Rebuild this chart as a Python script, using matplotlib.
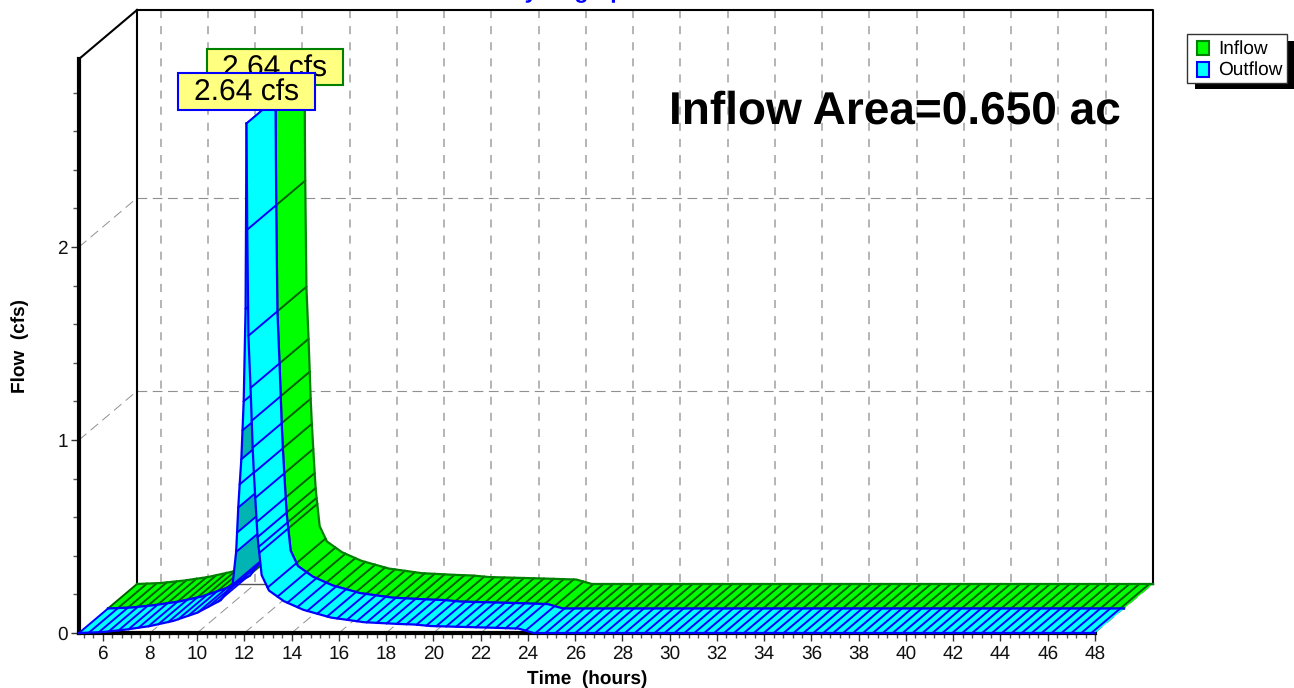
import numpy as np
import matplotlib
matplotlib.use("Agg")
import matplotlib.pyplot as plt
from matplotlib.patches import Rectangle, Polygon

plt.rcParams['font.family'] = ['Liberation Sans', 'DejaVu Sans']
plt.rcParams['lines.scale_dashes'] = False
plt.rcParams['text.hinting'] = 'none'
plt.rcParams['text.hinting_factor'] = 1

# ---- data -------------------------------------------------------------
time_rise = [5, 6, 7, 8, 9, 10, 11, 11.5, 11.65, 11.69, 11.74, 11.8, 11.87, 11.92, 11.97, 12.05, 12.09]
flow_rise = [0, .005, .018, .036, .063, .105, .17, .25, .42, .52, .65, .77, .90, 1.05, 1.2, 1.68, 2.64]
time_fall = [12.09, 12.12, 12.17, 12.26, 12.31, 12.35, 12.4, 12.46, 12.52, 12.56, 12.6, 12.63, 12.73, 13.04, 13.67,
             14.5, 15.66, 17.06, 18.5, 19.2, 19.9, 22.3, 23.6, 24.25, 48]
flow_fall = [2.64, 2.09, 1.54, 1.27, 1.10, .96, .83, .70, .575, .497, .446, .415, .30, .22, .165,
             .12, .08, .056, .047, .044, .036, .028, .023, 0, 0]
shaded_rise_flows = [(.25, .42), (.52, .65), (.90, 1.05)]
series_names = ['Inflow', 'Outflow']
peak_labels = ['2.64 cfs', '2.64 cfs']
area_label = 'Inflow Area=0.650 ac'
x_major = list(range(6, 50, 2))
y_major = [0, 1, 2]

W, H = 1294, 688
fig = plt.figure(figsize=(W / 100, H / 100), dpi=100, facecolor='white')
L, R, T, B = 79, 1095, 59, 633
ax = fig.add_axes([L / W, 1 - B / H, (R - L) / W, (B - T) / H])
ax.set_xlim(5, 48)
ymax = (B - T) / 193.0
ax.set_ylim(0, ymax)
ax.patch.set_alpha(0)

px_x = (R - L) / 43.0
px_y = 193.0
dt_full = 58 / px_x   # depth offset in data units
dq_full = 49 / px_y

def off(d):
    return d * dt_full, d * dq_full

GRID = '#b4b4b4'
GRID2 = '#909090'
# back wall grid
for tv in x_major:
    ax.plot([tv + dt_full] * 2, [ymax + dq_full, dq_full], color=GRID, lw=1.4, dashes=(5.8, 5.8), clip_on=False, zorder=1)
for qv in [1, 2]:
    ax.plot([5 + dt_full, 48 + dt_full], [qv + dq_full] * 2, color=GRID2, lw=0.8, dashes=(7, 4), clip_on=False, zorder=1)
    ax.plot([5, 5 + dt_full], [qv, qv + dq_full], color=GRID2, lw=0.7, dashes=(7, 4), clip_on=False, zorder=1)
for tv in x_major:
    ax.plot([tv, tv + dt_full], [0, dq_full], color=GRID2, lw=0.7, dashes=(7, 4), clip_on=False, zorder=1)
# frame walls
ax.plot([5 + dt_full, 48 + dt_full, 48 + dt_full], [ymax + dq_full, ymax + dq_full, dq_full], color='k', lw=1.5, clip_on=False, zorder=1.5)
ax.plot([5 + dt_full, 5 + dt_full], [dq_full, ymax + dq_full], color='k', lw=1.5, clip_on=False, zorder=1.5)
ax.plot([5, 5 + dt_full], [ymax, ymax + dq_full], color='k', lw=1.5, clip_on=False, zorder=1.5)
ax.plot([5 + dt_full, 48 + dt_full], [dq_full, dq_full], color='#555555', lw=1.0, clip_on=False, zorder=1.5)

tr = np.array(time_rise, float); qr = np.array(flow_rise, float)
tf = np.array(time_fall, float); qf = np.array(flow_fall, float)
hatch_flat = np.arange(5.0, 48.01, 0.42)

def ribbon(d0, d1, face, edge, hatch_col, z, shaded=None):
    a = off(d0); b = off(d1)
    def poly(t, q, zz):
        xs = np.r_[t + a[0], (t + b[0])[::-1]]
        ys = np.r_[q + a[1], (q + b[1])[::-1]]
        ax.add_patch(Polygon(np.c_[xs, ys], closed=True, fc=face, ec='none', clip_on=False, zorder=zz))
        ax.plot(t + a[0], q + a[1], color=edge, lw=1.6, clip_on=False, zorder=zz + 0.03, solid_joinstyle='round')
        ax.plot(t + b[0], q + b[1], color=edge, lw=1.6, clip_on=False, zorder=zz + 0.03, solid_joinstyle='round')
    def hatch(hs, t, q, zz):
        for h in hs:
            qq = np.interp(h, t, q)
            ax.plot([h + a[0], h + b[0]], [qq + a[1], qq + b[1]], color=hatch_col, lw=1.4, clip_on=False, zorder=zz + 0.02)
    poly(tr, qr, z)
    if shaded:
        for lo, hi in shaded:
            m = (qr >= lo) & (qr <= hi) & (tr >= 11)
            t = tr[m]; q = qr[m]
            xs = np.r_[t + a[0], (t + b[0])[::-1]]
            ys = np.r_[q + a[1], (q + b[1])[::-1]]
            ax.add_patch(Polygon(np.c_[xs, ys], closed=True, fc='#00b4b4', ec='none', clip_on=False, zorder=z + 0.01))
    hatch(np.r_[hatch_flat[hatch_flat < 11.5], tr[tr >= 11.5]], tr, qr, z)
    poly(tf, qf, z + 0.1)
    steep = tf[tf <= 12.63]
    hatch(np.r_[steep, hatch_flat[hatch_flat > 12.65]], tf, qf, z + 0.1)

ribbon(0.5, 1.0, '#00ff00', '#008000', '#006000', 2)
ribbon(0.0, 0.5, '#00ffff', '#0000ff', '#0000ff', 3, shaded_rise_flows)

# axes
for s in ['top', 'right']:
    ax.spines[s].set_visible(False)
ax.spines['left'].set_linewidth(3)
ax.spines['bottom'].set_linewidth(3)
ax.spines['bottom'].set_zorder(1.8)
ax.spines['left'].set_zorder(1.8)
ax.set_xticks(x_major)
ax.set_xticks(np.arange(5.2, 48.01, 0.4), minor=True)
ax.set_yticks(y_major)
ax.set_yticks(np.arange(0, ymax, 0.2), minor=True)
ax.tick_params(axis='x', which='major', length=6, width=1, color='#333333', labelsize=13.5, pad=3, labelcolor='#111111')
ax.tick_params(axis='x', which='minor', length=3.5, width=1, color='#555555')
ax.tick_params(axis='y', which='major', length=6, width=1, color='#333333', labelsize=13.5, pad=2, labelcolor='#111111')
ax.tick_params(axis='y', which='minor', length=4, width=1, color='#555555')
ax.set_xlabel('Time  (hours)', fontsize=13.5, fontweight='bold', labelpad=5, x=(587 - L) / (R - L))
ax.set_ylabel('Flow  (cfs)', fontsize=13.5, fontweight='bold', labelpad=20.5)

# title (clipped by the figure's top edge, as in the reference)
fig.text(574 / W, 1 + 2 / H, 'Hydrograph', ha='center', va='baseline', color='#0000ff', fontsize=16.5, fontweight='bold')

# area note
fig.text(895 / W, 1 - 124 / H, area_label, ha='center', va='baseline', fontsize=33, fontweight='bold', color='k', zorder=10)

# callouts in figure pixel coordinates
def fig_box(x0, y0, x1, y1, fc, ec, lw=1.5, z=10):
    fig.add_artist(Rectangle((x0 / W, 1 - y1 / H), (x1 - x0) / W, (y1 - y0) / H, transform=fig.transFigure,
                             fc=fc, ec=ec, lw=lw, zorder=z))

fig_box(207, 49, 343, 85, '#ffff80', '#008000', z=11)
fig.text(275 / W, 1 - 77 / H, peak_labels[0], ha='center', va='baseline', fontsize=21.8, zorder=12)
fig_box(178, 73, 315, 110, '#ffff80', '#0000ff', z=13)
fig.text(246.5 / W, 1 - 100.5 / H, peak_labels[1], ha='center', va='baseline', fontsize=21.8, zorder=14)

# legend
fig_box(1195, 41, 1294, 89, 'k', 'none', lw=0, z=11)
fig_box(1187, 34, 1287, 83, 'white', '#333333', lw=1, z=12)
fig_box(1197, 41.5, 1209, 54.5, '#00ff00', '#008000', z=13)
fig_box(1197, 62.5, 1209, 76.5, '#00ffff', '#0000ff', z=13)
fig.text(1218 / W, 1 - 54 / H, series_names[0], ha='left', va='baseline', fontsize=13.8, zorder=13)
fig.text(1218 / W, 1 - 75 / H, series_names[1], ha='left', va='baseline', fontsize=13.8, zorder=13)

fig.savefig('out.png', dpi=100, facecolor='white')
